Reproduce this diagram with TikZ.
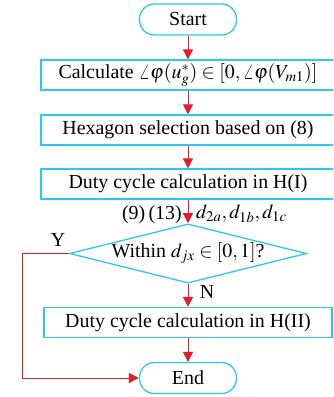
\documentclass[tikz,border=0pt]{standalone}
\usepackage{mathptmx}
\usepackage{fontspec}
\setmainfont{Liberation Serif}
\usetikzlibrary{shapes.geometric,arrows.meta}
\definecolor{boxcyan}{RGB}{45,200,240}
\definecolor{arrred}{RGB}{230,30,35}
\tikzset{
  procbox/.style={draw=boxcyan, line width=1.1pt, rectangle, minimum height=0.9cm, inner sep=0pt},
  termbox/.style={draw=boxcyan, line width=1.1pt, rectangle, rounded corners=0.45cm, minimum width=2.91cm, minimum height=0.93cm, inner sep=0pt},
  decbox/.style={draw=boxcyan, line width=1.1pt, diamond, aspect=4, minimum width=6.9cm, minimum height=1.71cm, inner sep=0pt},
  flow/.style={draw=arrred, line width=0.8pt, -{Triangle[length=0.3cm, width=0.3cm]}},
  lbl/.style={inner sep=0pt}
}
\begin{document}
\begin{tikzpicture}[x=0.03cm, y=-0.03cm, font=\fontsize{17}{20}\selectfont]
\useasboundingbox (0,0) rectangle (333,397);
\clip (0,0) rectangle (333,397);
\node[termbox] (start) at (188,19.5) {Start};
\node[procbox, minimum width=8.82cm] (calc) at (188,75) {Calculate $\angle\varphi(u_g^{*})\in[0,\angle\varphi(V_{m1})]$};
\node[procbox, minimum width=8.82cm] (hex) at (188,130) {Hexagon selection based on (8)};
\node[procbox, minimum width=8.82cm] (duty1) at (188,184) {Duty cycle calculation in H(I)};
\node[decbox] (dec) at (188,253.5) {Within $d_{jx}\in[0,1]$?};
\node[procbox, minimum width=8.64cm] (duty2) at (188,322.5) {Duty cycle calculation in H(II)};
\node[termbox] (end) at (188,378) {End};
\coordinate (corner) at (22,253.5);
\node[lbl, anchor=east] (eqs) at (182,215) {(9)\,(13)};
\node[lbl, anchor=west] (ds) at (196,214) {$d_{2a},d_{1b},d_{1c}$};
\node[lbl] (ylab) at (58,240) {Y};
\node[lbl] (nlab) at (207,292) {N};
\draw[flow] (start) -- (calc);
\draw[flow] (calc) -- (hex);
\draw[flow] (hex) -- (duty1);
\draw[flow] (duty1) -- (dec);
\draw[flow] (dec) -- (duty2);
\draw[flow] (duty2) -- (end);
\draw[flow] (dec.west) -- (corner) |- (end.west);
\end{tikzpicture}
\end{document}
